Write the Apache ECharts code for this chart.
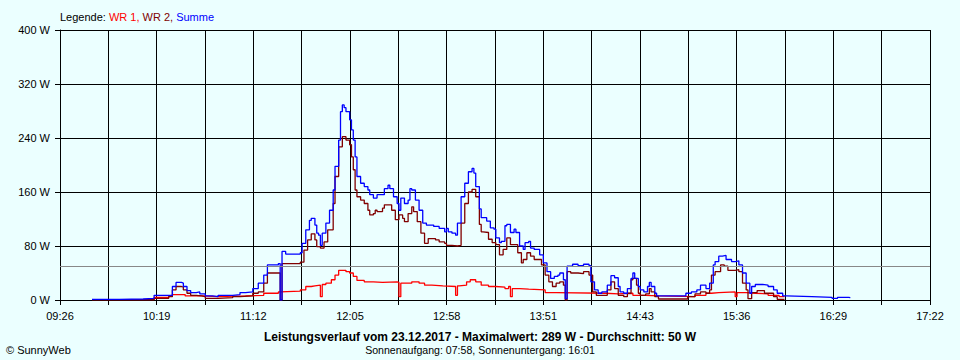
<!DOCTYPE html>
<html><head><meta charset="utf-8">
<script src="https://cdn.jsdelivr.net/npm/echarts@6/dist/echarts.min.js"></script>
<style>html,body{margin:0;padding:0;background:#ebffff}#c{width:960px;height:360px}</style>
</head><body><div id="c"></div>
<script>
// ---- data ----
const tickLabels = ['09:26','10:19','11:12','12:05','12:58','13:51','14:43','15:36','16:29','17:22'];
const yTicks = [0, 80, 160, 240, 320, 400];
const average = 50;

const wr1Times = ["09:44","10:18","10:26","10:28","10:35","10:44","10:53","11:08","11:18","11:26","11:27","11:38","11:41","11:44","11:46","11:49","11:50","11:52","11:55","11:57","11:59","12:03","12:05","12:07","12:09","12:13","12:18","12:23","12:31","12:32","12:33","12:39","12:43","12:46","12:50","12:56","13:03","13:04","13:05","13:09","13:11","13:14","13:17","13:21","13:25","13:30","13:32","13:33","13:34","13:38","13:43","13:52","13:58","14:25","14:32","14:40","14:47","14:54","15:14","15:20","15:23","15:27","15:36","15:37","15:42","15:47","15:54","16:00","16:03"];
const wr1Values = [0.5,4,6,8,6,5,6,7,10,12,13,15,20,21,22,5,23,25,30,37,44,42,40,35,29,27,26,27,26,5,25,27,25,22,21,20,7,21,22,27,30,27,22,20,19,17,20,5,17,16,15,11,10,9,10,7,6,5,7,10,11,12,5,11,10,9,7,5,5];

const wr2Times = ["09:44","10:18","10:26","10:28","10:30","10:33","10:34","10:36","10:38","10:41","10:44","10:46","10:53","11:01","11:05","11:12","11:15","11:18","11:20","11:26","11:27","11:28","11:38","11:40","11:42","11:44","11:46","11:47","11:49","11:51","11:53","11:56","11:57","11:59","12:01","12:03","12:05","12:06","12:07","12:08","12:09","12:11","12:13","12:15","12:16","12:18","12:19","12:20","12:23","12:24","12:28","12:30","12:32","12:34","12:35","12:37","12:39","12:40","12:42","12:44","12:46","12:48","12:52","12:54","12:57","12:58","13:01","13:04","13:06","13:08","13:10","13:12","13:14","13:16","13:17","13:18","13:21","13:23","13:25","13:27","13:29","13:31","13:33","13:37","13:39","13:40","13:42","13:44","13:46","13:50","13:52","13:54","13:56","13:58","14:00","14:02","14:03","14:04","14:06","14:10","14:13","14:16","14:18","14:20","14:26","14:28","14:30","14:32","14:35","14:37","14:39","14:40","14:42","14:43","14:44","14:47","14:49","14:50","14:52","14:54","15:10","15:14","15:17","15:20","15:22","15:23","15:25","15:28","15:30","15:32","15:36","15:38","15:40","15:42","15:43","15:45","15:48","15:52","15:57","15:59","16:03"];
const wr2Values = [0.5,2.5,5,15,20,19,15,10,7,6,5,2.5,3.5,5,6,10,12,25,40,40,0,54,56,74,89,98,89,79,77,86,104,143,183,227,242,237,230,212,193,163,153,148,143,133,126,128,133,131,136,141,133,119,126,121,116,128,138,131,116,99,84,91,89,86,84,81,80,81,114,143,160,164,153,112,101,100,90,85,82,67,75,92,82,70,55,60,70,65,60,52,37,27,20,25,27,22,0,42,40,39,42,37,12,7,15,27,17,7,5,10,30,32,22,10,7,9,17,12,5,1.5,5,9,12,10,15,37,42,52,50,44,45,42,25,15,2,11,14,10,5,1,1];

const sumTimes = ["09:44","09:59","10:12","10:18","10:28","10:30","10:33","10:34","10:36","10:38","10:41","10:43","10:46","10:50","10:53","11:01","11:05","11:08","11:12","11:15","11:18","11:20","11:26","11:27","11:28","11:30","11:38","11:39","11:41","11:43","11:44","11:46","11:47","11:48","11:49","11:50","11:52","11:54","11:56","11:57","11:59","12:00","12:01","12:02","12:03","12:05","12:06","12:07","12:08","12:09","12:11","12:13","12:15","12:16","12:18","12:20","12:24","12:26","12:27","12:29","12:31","12:32","12:33","12:35","12:37","12:38","12:39","12:41","12:43","12:45","12:47","12:51","12:54","12:57","12:58","12:59","13:01","13:03","13:04","13:06","13:08","13:10","13:12","13:13","13:14","13:16","13:17","13:20","13:22","13:24","13:25","13:27","13:28","13:30","13:31","13:33","13:35","13:36","13:38","13:40","13:41","13:43","13:44","13:46","13:49","13:51","13:53","13:55","13:57","13:59","14:00","14:02","14:03","14:04","14:07","14:10","14:13","14:16","14:17","14:19","14:21","14:23","14:26","14:28","14:30","14:32","14:33","14:35","14:37","14:39","14:40","14:41","14:43","14:44","14:46","14:48","14:49","14:50","14:52","14:53","15:09","15:12","15:15","15:17","15:20","15:22","15:24","15:25","15:27","15:29","15:31","15:34","15:36","15:38","15:40","15:42","15:44","15:45","15:47","15:51","15:54","15:57","15:59","16:02","16:04","16:18","16:29","16:32","16:38","16:39"];
const sumValues = [1,1.5,2.5,7,20,26,25,20,14,11,12,9,6,5,7,8,11,12,17,25,37,52,54,0,72,68,70,84,104,118,121,111,99,96,81,99,114,133,163,198,237,279,289,285,279,267,252,237,212,183,173,168,163,156,151,156,165,170,165,153,143,133,151,143,148,165,163,148,133,114,111,109,106,101,106,101,99,96,114,153,173,190,195,188,168,135,122,117,107,105,92,85,87,110,112,100,105,100,80,75,85,87,77,75,67,55,42,32,35,37,40,30,2,50,53,51,53,51,27,15,10,12,22,36,33,20,12,10,17,32,40,32,20,15,12,20,26,20,10,6,10,12,15,22,17,25,52,57,65,66,60,57,58,52,40,25,10,20,23,22,20,15,10,6,5,4,2.5,4,3.5,3.5];

// ---- axis mapping: 18 grid divisions from 09:26:30, 26.45 min each ----
const AXIS_START = 566.5, DIV = 26.45;
const toMin = s => { const p = s.split(':').map(Number); return p[0] * 60 + p[1]; };
const pairs = (times, vals) => times.map((t, i) => [(toMin(t) - AXIS_START) / DIV, vals[i]]);

const FONT = '"Liberation Sans", Arial, sans-serif';
const chart = echarts.init(document.getElementById('c'), null, {renderer: 'svg'});
const lineSeries = (name, times, vals, color) => ({
  name, type: 'line', step: 'end', symbol: 'none', animation: false,
  data: pairs(times, vals), lineStyle: {color, width: 1.3}, itemStyle: {color},
  emphasis: {disabled: true}
});
const s1 = lineSeries('WR 1', wr1Times, wr1Values, '#ff0000');
s1.markLine = {silent: true, symbol: 'none', animation: false, label: {show: false},
  lineStyle: {color: '#888888', width: 1.2, type: 'solid'}, data: [{yAxis: average}]};

const rs = c => ({color: c, fontSize: 11, fontWeight: 'normal', fontFamily: FONT, lineHeight: 13});
chart.setOption({
  backgroundColor: '#ebffff',
  animation: false,
  grid: {left: 60, top: 30, width: 870, height: 270, containLabel: false},
  title: [
    {text: '{k|Legende: }{r|WR 1, }{d|WR 2, }{b|Summe}', left: 60, top: 10, padding: 0,
      textStyle: {fontWeight: 'normal', rich: {k: rs('#000'), r: rs('#ff0000'), d: rs('#800000'), b: rs('#0000ff')}}},
    {text: 'Leistungsverlauf vom 23.12.2017 - Maximalwert: 289 W - Durchschnitt: 50 W', left: 'center', top: 330, padding: 0,
      textStyle: {color: '#000', fontSize: 12, fontWeight: 'bold', fontFamily: FONT, lineHeight: 14}},
    {text: 'Sonnenaufgang: 07:58, Sonnenuntergang: 16:01', left: 'center', top: 343, padding: 0,
      textStyle: {color: '#000', fontSize: 10.6, fontWeight: 'normal', fontFamily: FONT, lineHeight: 13}},
    {text: '© SunnyWeb', left: 6, top: 343, padding: 0,
      textStyle: {color: '#000', fontSize: 11, fontWeight: 'normal', fontFamily: FONT, lineHeight: 13}}
  ],
  xAxis: {
    type: 'value', min: 0, max: 18, interval: 1,
    axisLine: {show: true, lineStyle: {color: '#000', width: 1}},
    axisTick: {show: true, length: 5, lineStyle: {color: '#000', width: 1}},
    splitLine: {show: true, lineStyle: {color: '#000', width: 1}},
    axisLabel: {color: '#000', fontSize: 11, fontFamily: FONT, margin: 10, showMinLabel: true, showMaxLabel: true,
      formatter: v => { const k = Math.round(v); return k % 2 === 0 ? tickLabels[k / 2] : ''; }}
  },
  yAxis: {
    type: 'value', min: yTicks[0], max: yTicks[yTicks.length - 1], interval: yTicks[1] - yTicks[0],
    axisLine: {show: true, lineStyle: {color: '#000', width: 1}},
    axisTick: {show: true, length: 5, lineStyle: {color: '#000', width: 1}},
    splitLine: {show: true, lineStyle: {color: '#000', width: 1}},
    axisLabel: {color: '#000', fontSize: 11, fontFamily: FONT, margin: 10, formatter: '{value} W'}
  },
  series: [
    s1,
    lineSeries('WR 2', wr2Times, wr2Values, '#800000'),
    lineSeries('Summe', sumTimes, sumValues, '#0000ff')
  ]
});
</script></body></html>
